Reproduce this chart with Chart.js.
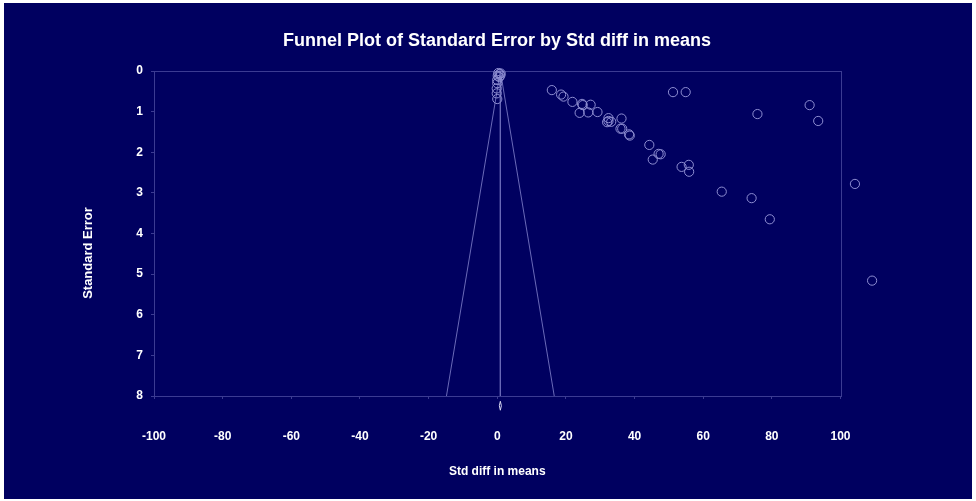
<!DOCTYPE html>
<html>
<head>
<meta charset="utf-8">
<script src="https://cdn.jsdelivr.net/npm/chart.js@4/dist/chart.umd.min.js"></script>
<style>
  html, body { margin: 0; padding: 0; background: #ffffff; width: 976px; height: 501px; overflow: hidden; }
  #wrap { position: absolute; left: 4px; top: 3px; width: 968px; height: 496px; background: #000060; }
  canvas { display: block; }
</style>
</head>
<body>
<div id="wrap"><canvas id="funnel" width="968" height="496"></canvas></div>
<script>
// Study effect sizes (Std diff in means) and their standard errors
const studyEffect = [
  0.3, 0.7, 0.9, 0.6, 0.15, 1.0, 0.0, 0.0, -0.15, -0.15, 0.0,
  15.9, 18.6, 19.3, 21.9, 24.7, 24.9, 27.2, 24.0, 26.5, 29.2,
  32.4, 32.4, 32.0, 33.2, 36.2, 35.9, 36.4, 38.4, 38.6, 44.3,
  47.0, 47.6, 45.3, 53.7, 55.8, 55.9, 65.4, 74.1, 79.4,
  51.2, 54.9, 75.8, 91.0, 93.5, 104.2, 109.2
];
const studyStdErr = [
  0.05, 0.07, 0.11, 0.15, 0.12, 0.06, 0.22, 0.30, 0.43, 0.55, 0.69,
  0.47, 0.58, 0.63, 0.76, 0.81, 0.84, 0.83, 1.03, 1.02, 1.01,
  1.16, 1.23, 1.26, 1.25, 1.17, 1.42, 1.42, 1.56, 1.59, 1.82,
  2.04, 2.05, 2.18, 2.36, 2.31, 2.48, 2.97, 3.13, 3.65,
  0.52, 0.52, 1.06, 0.84, 1.23, 2.78, 5.16
];

// Pooled effect and the pseudo 95% limits of the funnel
const pooledEffect = 0.9;
const funnelX = [-14.8, 0.9, 16.6];
const funnelY = [8, 0, 8];
// Summary diamond drawn just below the axis
const diamondX = [0.9, 1.2, 0.9, 0.6, 0.9];
const diamondY = [8.13, 8.24, 8.35, 8.24, 8.13];

// Labelled axis range; the x scale runs a little past 100 so outlying studies still show
const xTicks = { min: -100, max: 100, step: 20, reach: 115 };
const yTicks = { min: 0, max: 8, step: 1 };

const FONT = "'Liberation Sans', Arial, sans-serif";
const FRAME = '#3b3b92';
const LINE = '#6a6ab8';
const MARK = '#8e8ed2';

const pts = (xs, ys) => xs.map((x, i) => ({ x, y: ys[i] }));

const chrome = {
  id: 'chrome',
  beforeDatasetsDraw(chart) {
    // plot frame between the labelled limits of both axes
    const { ctx, scales: { x, y } } = chart;
    const l = Math.round(x.getPixelForValue(xTicks.min)) + 0.5;
    const r = Math.round(x.getPixelForValue(xTicks.max)) + 0.5;
    const t = Math.round(y.getPixelForValue(yTicks.min)) + 0.5;
    const b = Math.round(y.getPixelForValue(yTicks.max)) + 0.5;
    ctx.save();
    ctx.strokeStyle = FRAME;
    ctx.lineWidth = 1;
    ctx.strokeRect(l, t, r - l, b - t);
    ctx.restore();
  },
  afterDraw(chart) {
    const { ctx, scales: { x } } = chart;
    const midX = (x.getPixelForValue(xTicks.min) + x.getPixelForValue(xTicks.max)) / 2;
    ctx.save();
    ctx.fillStyle = '#ffffff';
    ctx.textAlign = 'center';
    ctx.textBaseline = 'middle';
    ctx.font = 'bold 18px ' + FONT;
    ctx.fillText('Funnel Plot of Standard Error by Std diff in means', 493, 38);
    ctx.font = 'bold 12px ' + FONT;
    ctx.fillText('Std diff in means', midX, 469);
    ctx.font = 'bold 13px ' + FONT;
    ctx.translate(84, 250);
    ctx.rotate(-Math.PI / 2);
    ctx.fillText('Standard Error', 0, 0);
    ctx.restore();
  }
};

new Chart(document.getElementById('funnel'), {
  type: 'scatter',
  data: {
    datasets: [
      {
        label: 'Studies',
        data: pts(studyEffect, studyStdErr),
        pointStyle: 'circle',
        pointRadius: 4.6,
        pointBorderWidth: 1,
        pointBorderColor: MARK,
        pointBackgroundColor: 'rgba(0,0,0,0)',
        clip: false,
        order: 1
      },
      {
        label: 'Funnel',
        data: pts(funnelX, funnelY),
        showLine: true,
        borderColor: LINE,
        borderWidth: 1,
        pointRadius: 0,
        fill: false,
        order: 2
      },
      {
        label: 'Pooled',
        data: [{ x: pooledEffect, y: 0 }, { x: pooledEffect, y: 8 }],
        showLine: true,
        borderColor: LINE,
        borderWidth: 1,
        pointRadius: 0,
        order: 3
      },
      {
        label: 'Summary',
        data: pts(diamondX, diamondY),
        showLine: true,
        borderColor: '#d8d8f0',
        backgroundColor: '#d8d8f0',
        borderWidth: 1,
        fill: true,
        pointRadius: 0,
        clip: false,
        order: 0
      }
    ]
  },
  options: {
    responsive: false,
    animation: false,
    devicePixelRatio: 1,
    layout: { padding: { left: 0, right: 80, top: 68, bottom: 0 } },
    plugins: {
      legend: { display: false },
      title: { display: false },
      tooltip: { enabled: false }
    },
    scales: {
      x: {
        type: 'linear',
        min: xTicks.min,
        max: xTicks.reach,
        afterFit(s) { s.height = 103; },
        afterBuildTicks(s) { s.ticks = s.ticks.filter(t => t.value <= xTicks.max); },
        ticks: {
          stepSize: xTicks.step,
          color: '#ffffff',
          padding: 30,
          maxRotation: 0,
          font: { family: FONT, size: 12, weight: 'bold' }
        },
        grid: { drawOnChartArea: false, tickLength: 3, color: FRAME },
        border: { display: false }
      },
      y: {
        type: 'linear',
        reverse: true,
        min: yTicks.min,
        max: yTicks.max,
        afterFit(s) { s.width = 150; },
        ticks: {
          stepSize: yTicks.step,
          color: '#ffffff',
          padding: 8,
          font: { family: FONT, size: 12, weight: 'bold' }
        },
        grid: { drawOnChartArea: false, tickLength: 3, color: FRAME },
        border: { display: false }
      }
    }
  },
  plugins: [chrome]
});
</script>
</body>
</html>
